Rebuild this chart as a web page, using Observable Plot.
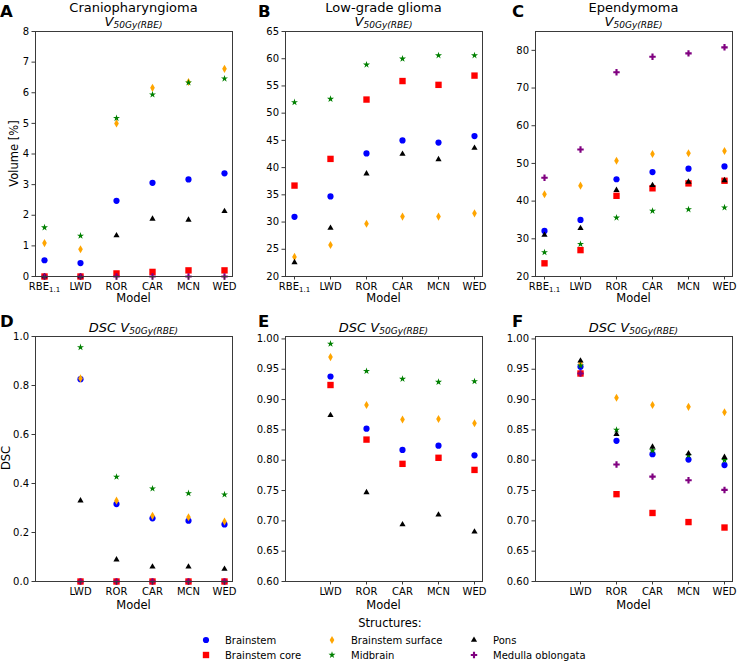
<!DOCTYPE html>
<html><head><meta charset="utf-8">
<script src="https://cdn.jsdelivr.net/npm/d3@7"></script>
<script src="https://cdn.jsdelivr.net/npm/@observablehq/plot@0.6"></script>
<style>
body{margin:0;background:#fff;font-family:"DejaVu Sans",sans-serif;}
#fig{position:relative;width:737px;height:666px;overflow:hidden;}
#fig > svg{position:absolute;}
</style></head><body><div id="fig"></div>
<script>
// ---- data ----
const models = ["RBE1.1", "LWD", "ROR", "CAR", "MCN", "WED"];
const dscModels = ["LWD", "ROR", "CAR", "MCN", "WED"];
const structures = ["Brainstem", "Brainstem core", "Brainstem surface", "Midbrain", "Pons", "Medulla oblongata"];
const structureColors = ["#0000ff", "#ff0000", "#ffa500", "#008000", "#000000", "#800080"];
const structureSymbols = ["circle", "square", "diamond", "star", "triangle", "cross"];

// V50Gy(RBE) [%], rows follow `structures`, columns follow `models`
const v50Cranio = [
  [0.53, 0.44, 2.47, 3.06, 3.17, 3.37],
  [0.0, 0.0, 0.10, 0.15, 0.20, 0.20],
  [1.09, 0.89, 5.00, 6.16, 6.35, 6.78],
  [1.60, 1.33, 5.17, 5.94, 6.33, 6.46],
  [0.0, 0.0, 1.34, 1.88, 1.85, 2.13],
  [0.0, 0.0, 0.0, 0.0, 0.0, 0.0]
];
const v50Glioma = [
  [30.96, 34.7, 42.6, 45.0, 44.6, 45.8],
  [36.7, 41.6, 52.5, 55.9, 55.2, 56.9],
  [23.6, 25.8, 29.7, 31.0, 31.0, 31.6],
  [52.0, 52.6, 58.9, 60.0, 60.6, 60.6],
  [22.6, 28.9, 38.9, 42.5, 41.5, 43.6],
  null
];
const v50Ependy = [
  [32.1, 35.0, 45.8, 47.7, 48.6, 49.2],
  [23.5, 27.0, 41.4, 43.4, 44.7, 45.4],
  [41.8, 44.1, 50.7, 52.5, 52.7, 53.3],
  [26.4, 28.6, 35.6, 37.4, 37.8, 38.3],
  [31.0, 32.8, 42.9, 44.2, 45.1, 45.5],
  [46.2, 53.7, 74.2, 78.3, 79.2, 80.8]
];
// DSC, columns follow `dscModels`
const dscCranio = [
  [0.826, 0.316, 0.258, 0.248, 0.233],
  [0, 0, 0, 0, 0],
  [0.829, 0.330, 0.268, 0.262, 0.245],
  [0.956, 0.427, 0.379, 0.360, 0.355],
  [0.330, 0.089, 0.060, 0.060, 0.051],
  [0, 0, 0, 0, 0]
];
const dscGlioma = [
  [0.938, 0.852, 0.817, 0.824, 0.808],
  [0.924, 0.834, 0.794, 0.804, 0.784],
  [0.970, 0.891, 0.867, 0.868, 0.861],
  [0.992, 0.947, 0.934, 0.929, 0.930],
  [0.874, 0.747, 0.694, 0.710, 0.682],
  null
];
const dscEpendy = [
  [0.954, 0.832, 0.810, 0.801, 0.792],
  [0.943, 0.744, 0.713, 0.698, 0.689],
  [0.960, 0.903, 0.891, 0.888, 0.879],
  [0.956, 0.850, 0.816, 0.808, 0.800],
  [0.964, 0.843, 0.822, 0.811, 0.805],
  [0.943, 0.793, 0.773, 0.767, 0.751]
];
const ticksCranio = [0, 1, 2, 3, 4, 5, 6, 7, 8];
const ticksGlioma = [20, 25, 30, 35, 40, 45, 50, 55, 60, 65];
const ticksEpendy = [20, 30, 40, 50, 60, 70, 80];
const ticksDsc = [0.0, 0.2, 0.4, 0.6, 0.8, 1.0];
const ticksDscHigh = [0.60, 0.65, 0.70, 0.75, 0.80, 0.85, 0.90, 0.95, 1.00];
const tumours = ["Craniopharyngioma", "Low-grade glioma", "Ependymoma"];
const panelLetters = ["A", "B", "C", "D", "E", "F"];

// ---- style ----
const markerR = [3.1, 3.6, 2.45, 2.2, 2.3, 2.7];
const fig = document.getElementById("fig");
const frameColor = "#3a3a3a";

function panel({left, top, values, xs, yDomain, yTicks, yFormat, xTicks}) {
  const marks = [];
  values.forEach((vals, i) => {
    if (!vals) return;
    const data = vals.map((v, j) => ({model: xs[j], value: v, structure: structures[i]}));
    marks.push(Plot.dot(data, {
      x: "model", y: "value",
      symbol: structureSymbols[i], fill: structureColors[i], r: markerR[i], stroke: "none"
    }));
  });
  const svg = Plot.plot({
    width: 237, height: 310,
    marginLeft: 35, marginRight: 5, marginTop: 31, marginBottom: 34,
    style: {fontFamily: "DejaVu Sans", fontSize: "10px", color: "#000", background: "transparent", overflow: "visible"},
    x: {type: "point", domain: models, padding: 0.22},
    y: {domain: yDomain},
    marks: [
      ...marks,
      Plot.frame({stroke: frameColor, strokeWidth: 1}),
      Plot.axisX({ticks: xTicks, tickSize: 3.5, tickPadding: 2.5, stroke: frameColor, fill: "#000", label: null}),
      Plot.axisY({ticks: yTicks, tickFormat: yFormat, tickSize: 3.5, tickPadding: 3, stroke: frameColor, fill: "#000", label: null})
    ]
  });
  svg.style.left = left + "px";
  svg.style.top = top + "px";
  // subscript for RBE1.1
  d3.select(svg).selectAll("text").each(function () {
    if (this.textContent === "RBE1.1") {
      const t = d3.select(this);
      t.text("RBE");
      t.append("tspan").attr("font-size", "7px").attr("dy", "2.5").text("1.1");
    }
  });
  fig.appendChild(svg);
}

const lefts = [0, 250, 500];
const rowTop = [0, 305];
const vData = [v50Cranio, v50Glioma, v50Ependy];
const vDomains = [[0, 8], [20, 65], [20, 85]];
const vTicks = [ticksCranio, ticksGlioma, ticksEpendy];
const dData = [dscCranio, dscGlioma, dscEpendy];
const dDomains = [[0, 1], [0.6, 1.004], [0.6, 1.004]];
const dTicks = [ticksDsc, ticksDscHigh, ticksDscHigh];
const dFormats = [d3.format(".1f"), d3.format(".2f"), d3.format(".2f")];

for (let c = 0; c < 3; c++) {
  panel({left: lefts[c], top: rowTop[0], values: vData[c], xs: models, yDomain: vDomains[c], yTicks: vTicks[c], yFormat: d3.format("d"), xTicks: models});
  panel({left: lefts[c], top: rowTop[1], values: dData[c], xs: dscModels, yDomain: dDomains[c], yTicks: dTicks[c], yFormat: dFormats[c], xTicks: dscModels});
}

// ---- text overlay ----
const ov = d3.create("svg").attr("width", 737).attr("height", 666)
  .style("left", "0px").style("top", "0px").style("pointer-events", "none")
  .attr("font-family", "DejaVu Sans").attr("fill", "#000");
const centers = [133.5, 383.5, 633.5];
const letterX = [0, 258, 512];
for (let c = 0; c < 3; c++) {
  ov.append("text").attr("x", letterX[c]).attr("y", 17).attr("font-size", 16.5).attr("font-weight", "bold").text(panelLetters[c]);
  ov.append("text").attr("x", letterX[c]).attr("y", 327).attr("font-size", 16.5).attr("font-weight", "bold").text(panelLetters[c + 3]);
  ov.append("text").attr("x", centers[c]).attr("y", 11.5).attr("font-size", 13).attr("text-anchor", "middle").text(tumours[c]);
  const t1 = ov.append("text").attr("x", centers[c]).attr("y", 25.5).attr("text-anchor", "middle").attr("font-style", "italic");
  t1.append("tspan").attr("font-size", 13).text("V");
  t1.append("tspan").attr("font-size", 9).attr("dy", 2.5).text("50Gy(RBE)");
  const t2 = ov.append("text").attr("x", centers[c]).attr("y", 331.5).attr("text-anchor", "middle").attr("font-style", "italic");
  t2.append("tspan").attr("font-size", 13).text("DSC V");
  t2.append("tspan").attr("font-size", 9).attr("dy", 2.5).text("50Gy(RBE)");
  ov.append("text").attr("x", centers[c]).attr("y", 302).attr("font-size", 11.5).attr("text-anchor", "middle").text("Model");
  ov.append("text").attr("x", centers[c]).attr("y", 609).attr("font-size", 11.5).attr("text-anchor", "middle").text("Model");
}
ov.append("text").attr("transform", "translate(18,153.5) rotate(-90)").attr("font-size", 11.5).attr("text-anchor", "middle").text("Volume [%]");
ov.append("text").attr("transform", "translate(9.5,458) rotate(-90)").attr("font-size", 11.5).attr("text-anchor", "middle").text("DSC");

// legend
ov.append("text").attr("x", 390).attr("y", 627).attr("font-size", 11.5).attr("text-anchor", "middle").text("Structures:");
const legMarkX = [206, 332, 474];
const legTextX = [225, 351, 493];
const legY = [640, 655];
const symbolScale = Plot.scale({symbol: {domain: structureSymbols, range: structureSymbols}});
structures.forEach((s, i) => {
  const col = Math.floor(i / 2), row = i % 2;
  const sym = d3.symbol(symbolScale.apply(structureSymbols[i]), Math.PI * markerR[i] * markerR[i]);
  ov.append("path").attr("d", sym()).attr("fill", structureColors[i]).attr("transform", `translate(${legMarkX[col]},${legY[row]})`);
  ov.append("text").attr("x", legTextX[col]).attr("y", legY[row] + 4).attr("font-size", 10).text(s);
});
fig.appendChild(ov.node());
</script>
</body></html>
